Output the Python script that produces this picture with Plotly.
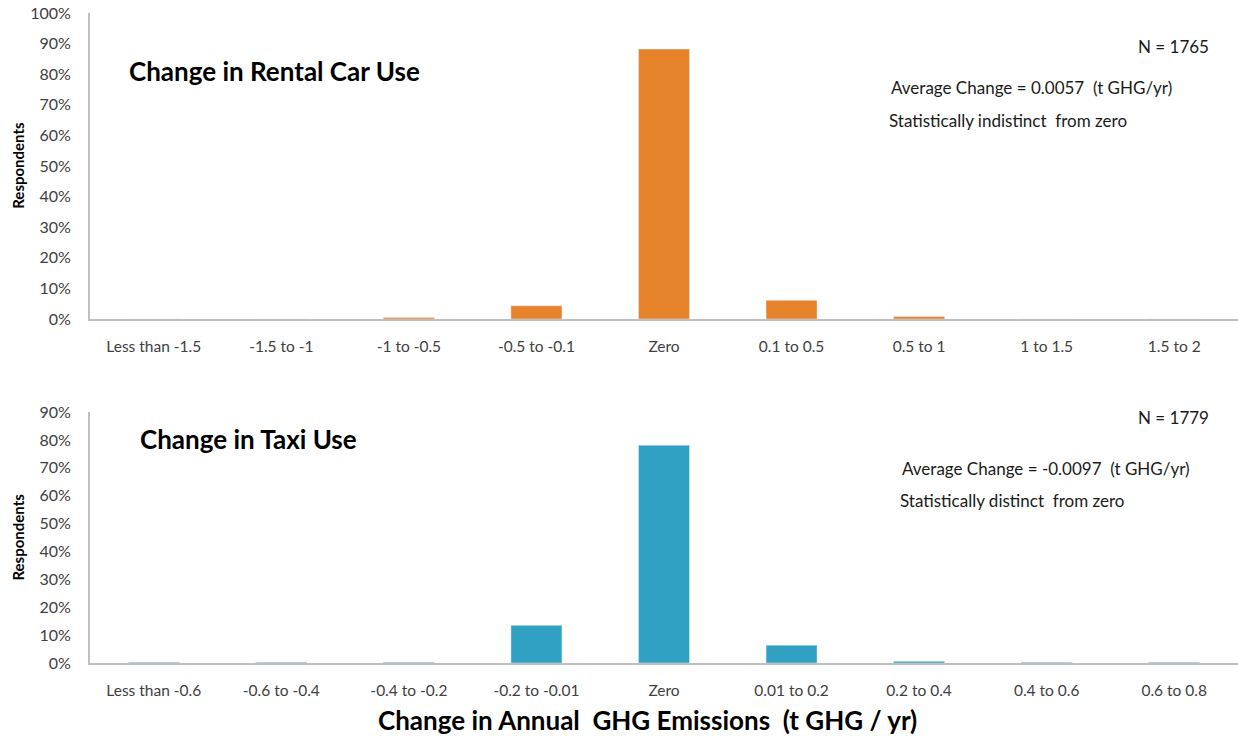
import plotly.graph_objects as go

FONT = "Lato"
ORANGE = "#E6822A"
BLUE = "#31A1C3"
AXIS = "#BFBFBF"
TICK = "#404040"

rental_bins = ["Less than -1.5", "-1.5 to -1", "-1 to -0.5", "-0.5 to -0.1", "Zero",
               "0.1 to 0.5", "0.5 to 1", "1 to 1.5", "1.5 to 2"]
rental_share = [0.0, 0.0, 0.005, 0.043, 0.882, 0.061, 0.008, 0.0, 0.0]

taxi_bins = ["Less than -0.6", "-0.6 to -0.4", "-0.4 to -0.2", "-0.2 to -0.01", "Zero",
             "0.01 to 0.2", "0.2 to 0.4", "0.4 to 0.6", "0.6 to 0.8"]
taxi_share = [0.003, 0.003, 0.003, 0.135, 0.781, 0.064, 0.006, 0.003, 0.003]

fig = go.Figure()
fig.add_trace(go.Bar(x=rental_bins, y=rental_share, marker_color=ORANGE, width=0.4,
                     xaxis="x", yaxis="y", name="Rental car"))
fig.add_trace(go.Bar(x=taxi_bins, y=taxi_share, marker_color=BLUE, width=0.4,
                     xaxis="x2", yaxis="y2", name="Taxi"))

xax = dict(showline=True, linecolor=AXIS, linewidth=2, showgrid=False, zeroline=False,
           ticks="", tickfont=dict(family=FONT, size=15.5, color=TICK), ticklabelstandoff=12,
           fixedrange=True)
yax = dict(showline=True, linecolor=AXIS, linewidth=2, showgrid=False, zeroline=False,
           ticks="", tickformat=".0%", dtick=0.1, tick0=0,
           tickfont=dict(family=FONT, size=16, color=TICK), ticklabelstandoff=14)

fig.update_layout(
    width=1238, height=736,
    paper_bgcolor="white", plot_bgcolor="white",
    showlegend=False,
    margin=dict(l=90, r=0, t=13, b=73),
    xaxis=dict(xax, domain=[0, 1], anchor="y"),
    yaxis=dict(yax, domain=[0.5292, 1.0], range=[0, 1.0], anchor="x"),
    xaxis2=dict(xax, domain=[0, 1], anchor="y2"),
    yaxis2=dict(yax, domain=[0, 0.386], range=[0, 0.9], anchor="x2"),
)


def note(text, x, y, xref, yref, size=17, bold=False, xanchor="left", angle=0, color="#1a1a1a"):
    fig.add_annotation(text=f"<b>{text}</b>" if bold else text, x=x, y=y, xref=xref, yref=yref,
                       xanchor=xanchor, yanchor="middle", showarrow=False, textangle=angle,
                       font=dict(family=FONT, size=size, color=color))


# top panel
note("Change in Rental Car Use", 0.032, 0.81, "x domain", "y domain", size=26, bold=True, color="black")
note("N = 1765", 0.9765, 0.889, "x domain", "y domain", xanchor="right")
note("Average Change = 0.0057  (t GHG/yr)", 0.696, 0.755, "x domain", "y domain")
note("Statistically indistinct  from zero", 0.694, 0.65, "x domain", "y domain")

# bottom panel
note("Change in Taxi Use", 0.042, 0.892, "x2 domain", "y2 domain", size=26, bold=True, color="black")
note("N = 1779", 0.9765, 0.98, "x2 domain", "y2 domain", xanchor="right")
note("Average Change = -0.0097  (t GHG/yr)", 0.7056, 0.777, "x2 domain", "y2 domain")
note("Statistically distinct  from zero", 0.704, 0.649, "x2 domain", "y2 domain")

# axis titles
note("Respondents", -0.0627, 0.765, "paper", "paper", size=15, bold=True, xanchor="center", angle=-90, color="black")
note("Respondents", -0.0627, 0.193, "paper", "paper", size=15, bold=True, xanchor="center", angle=-90, color="black")
note("Change in Annual  GHG Emissions  (t GHG / yr)", 0.486, -0.0877, "paper", "paper",
     size=26, bold=True, xanchor="center", color="black")

fig.write_html("out.html", config={"displayModeBar": False},
               post_script="document.body.style.margin='0';")
